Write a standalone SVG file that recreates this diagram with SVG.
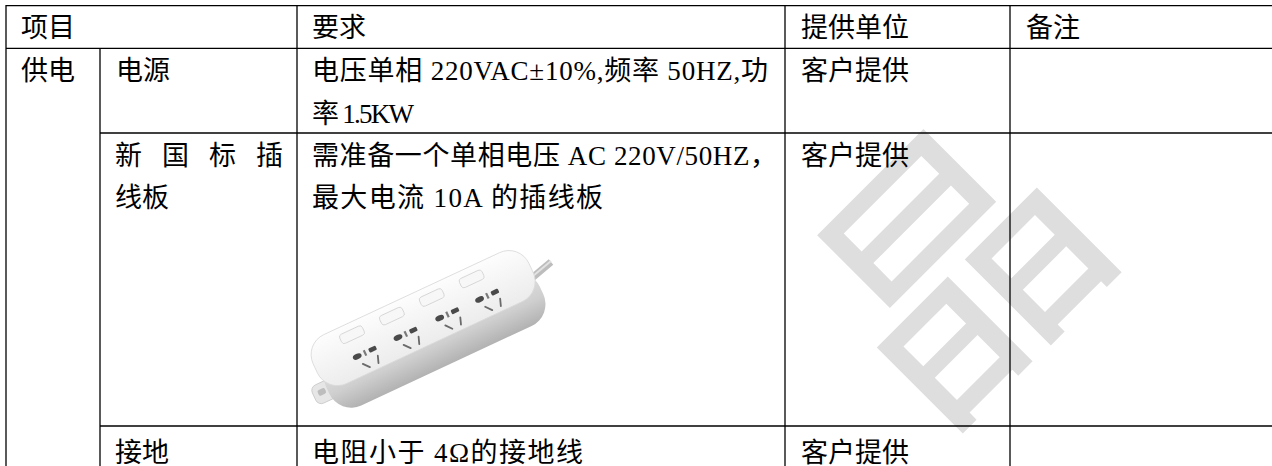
<svg xmlns="http://www.w3.org/2000/svg" width="1272" height="466" viewBox="0 0 1272 466">
<style>
.t{font-family:"Liberation Serif","Noto Sans CJK SC",serif;font-size:27px;fill:#000}
.grid line{stroke:#000;stroke-width:1.3}
.wm{font-family:"Noto Sans CJK SC",sans-serif;font-size:275px;fill:#dedede}
.sw{fill:#f7f7f7;stroke:#d2d2d2;stroke-width:0.8}
.hole{fill:#4a4a4a}
.sl{stroke:#6a6a6a;stroke-width:1.8;stroke-linecap:round}
</style>
<defs>
<linearGradient id="topGrad" x1="0" y1="0" x2="0" y2="1">
<stop offset="0" stop-color="#fdfdfd"/>
<stop offset="1" stop-color="#ececec"/>
</linearGradient>
<linearGradient id="sideGrad" x1="0" y1="0" x2="0" y2="1">
<stop offset="0" stop-color="#e4e4e4"/>
<stop offset="0.6" stop-color="#cfcfcf"/>
<stop offset="1" stop-color="#b2b2b2"/>
</linearGradient>
<g id="socket">
<ellipse cx="-10" cy="-3" rx="4.6" ry="2.8" class="hole"/>
<rect x="-2.5" y="-6" width="2.2" height="6" fill="#7a7a7a"/>
<rect x="3" y="-5.5" width="8" height="4.6" rx="1.2" class="hole"/>
<line x1="-8" y1="6" x2="-3" y2="12" class="sl"/>
<line x1="9" y1="5" x2="6.5" y2="12" class="sl"/>
</g>
</defs>
<rect width="1272" height="466" fill="#fff"/>
<g id="watermark">
<text class="wm" x="953" y="369" text-anchor="middle" transform="rotate(-45 953 265)">晶</text>
</g>
<g id="power-strip">
<rect x="312" y="228" width="240" height="196" fill="#fff"/>
<path d="M526 283 L551 262" stroke="#bdbdbd" stroke-width="7" stroke-linecap="butt"/>
<path d="M527 281 L551 261" stroke="#e2e2e2" stroke-width="2"/>
<g transform="translate(427 324) rotate(-25)">
<rect x="-133" y="8" width="24" height="20" rx="6" fill="#e6e6e6" stroke="#c8c8c8" stroke-width="0.8"/>
<rect x="-128" y="14" width="8" height="6" rx="2" fill="#bdbdbd"/>
<rect x="-118" y="-10" width="236" height="56" rx="24" fill="url(#sideGrad)"/>
<rect x="-120" y="-34" width="238" height="54" rx="22" fill="url(#topGrad)" stroke="#dadada" stroke-width="0.8"/>
<rect x="-85" y="-27" width="25" height="10" rx="3" class="sw"/>
<rect x="-41" y="-27" width="25" height="10" rx="3" class="sw"/>
<rect x="3" y="-27" width="25" height="10" rx="3" class="sw"/>
<rect x="47" y="-27" width="25" height="10" rx="3" class="sw"/>
<use href="#socket" x="-67" y="3"/>
<use href="#socket" x="-22" y="3"/>
<use href="#socket" x="24" y="3"/>
<use href="#socket" x="68" y="3"/>
</g>
</g>
<g id="grid" class="grid">
<line x1="6" y1="5.7" x2="1272" y2="5.7"/>
<line x1="6" y1="48.3" x2="1272" y2="48.3"/>
<line x1="100" y1="133" x2="1272" y2="133"/>
<line x1="100" y1="426" x2="1272" y2="426"/>
<line x1="6" y1="5" x2="6" y2="466"/>
<line x1="100" y1="48.3" x2="100" y2="466"/>
<line x1="297" y1="5" x2="297" y2="466"/>
<line x1="785" y1="5" x2="785" y2="466"/>
<line x1="1010" y1="5" x2="1010" y2="466"/>
</g>
<g id="header">
<text class="t" x="21" y="37">项目</text>
<text class="t" x="312" y="37">要求</text>
<text class="t" x="801" y="37">提供单位</text>
<text class="t" x="1026" y="37">备注</text>
</g>
<g id="row-power">
<text class="t" x="21" y="80">供电</text>
<text class="t" x="116" y="80">电源</text>
<text class="t" x="312" y="80" textLength="456" lengthAdjust="spacing">电压单相 220VAC±10%,频率 50HZ,功</text>
<text class="t" x="312" y="123" textLength="102" lengthAdjust="spacing">率 1.5KW</text>
<text class="t" x="801" y="80">客户提供</text>
</g>
<g id="row-strip">
<text class="t" x="115" y="165" textLength="168" lengthAdjust="spacing">新 国 标 插</text>
<text class="t" x="115" y="207">线板</text>
<text class="t" x="312" y="165" textLength="465" lengthAdjust="spacing">需准备一个单相电压 AC 220V/50HZ，</text>
<text class="t" x="312" y="207" textLength="291" lengthAdjust="spacing">最大电流 10A 的插线板</text>
<text class="t" x="801" y="165">客户提供</text>
</g>
<g id="row-ground">
<text class="t" x="115" y="462">接地</text>
<text class="t" x="312" y="462" textLength="271" lengthAdjust="spacing">电阻小于 4Ω的接地线</text>
<text class="t" x="801" y="462">客户提供</text>
</g>
</svg>
